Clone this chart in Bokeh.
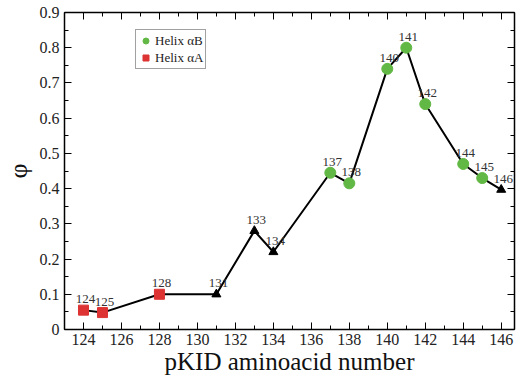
from bokeh.plotting import figure
from bokeh.models import LinearAxis, FixedTicker, ColumnDataSource, Legend, LegendItem, CustomLabelingPolicy
from bokeh.embed import file_html
from bokeh.resources import INLINE
from bokeh.core.properties import value

# ---- data ----
residues = [124, 125, 128, 131, 133, 134, 137, 138, 140, 141, 142, 144, 145, 146]
phi      = [0.055, 0.048, 0.10, 0.10, 0.28, 0.22, 0.445, 0.415, 0.74, 0.80, 0.64, 0.47, 0.43, 0.397]
labels   = ["124", "125", "128", "131", "133", "134", "137", "138", "140", "141", "142", "144", "145", "146"]

helixB_res = [137, 138, 140, 141, 142, 144, 145]
helixB_phi = [0.445, 0.415, 0.74, 0.80, 0.64, 0.47, 0.43]
helixA_res = [124, 125, 128]
helixA_phi = [0.055, 0.048, 0.10]
other_res  = [131, 133, 134, 146]
other_phi  = [0.10, 0.28, 0.22, 0.397]

x_ticks = [124, 126, 128, 130, 132, 134, 136, 138, 140, 142, 144, 146]
x_minor = list(range(123, 148))
y_ticks = [0, 0.1, 0.2, 0.3, 0.4, 0.5, 0.6, 0.7, 0.8, 0.9]
y_minor = [0, 0.05, 0.1, 0.15, 0.2, 0.25, 0.3, 0.35, 0.4, 0.45, 0.5, 0.55, 0.6, 0.65, 0.7, 0.75, 0.8, 0.85, 0.9]

FONT = "Liberation Serif"
GREEN = "#62b844"
RED = "#dd3333"

p = figure(frame_width=450, frame_height=317, x_range=(123, 146.7), y_range=(0, 0.9),
           output_backend="svg", toolbar_location=None,
           min_border_left=60, min_border_top=12, min_border_right=2, min_border_bottom=40)
p.xgrid.visible = False
p.ygrid.visible = False
p.outline_line_color = None
p.background_fill_color = "white"

no_labels = CustomLabelingPolicy(code="""
const all = Array.from(indices);
for (const i of all) indices.unset(i);
return indices;
""")

def style_axis(ax, ticks, minor, show_labels):
    ax.ticker = FixedTicker(ticks=ticks, minor_ticks=minor)
    ax.major_tick_in = 7
    ax.major_tick_out = 0
    ax.minor_tick_in = 4
    ax.minor_tick_out = 0
    ax.axis_line_color = "black"
    ax.axis_line_width = 1.5
    ax.major_tick_line_color = "black"
    ax.minor_tick_line_color = "black"
    ax.major_tick_line_width = 1
    ax.minor_tick_line_width = 1
    if show_labels:
        ax.major_label_text_font = FONT
        ax.major_label_text_font_size = "16px"
        ax.major_label_text_color = "#222222"
        ax.axis_label_text_font = FONT
        ax.axis_label_text_font_style = "normal"
        ax.axis_label_text_color = "#111111"
    else:
        ax.major_label_policy = no_labels
        ax.major_label_text_font_size = "1px"
        ax.major_label_standoff = 0

xa = p.xaxis[0]
style_axis(xa, x_ticks, x_minor, True)
xa.axis_label = "pKID aminoacid number"
xa.axis_label_text_font_size = "25px"
xa.axis_label_standoff = 0
xa.major_label_standoff = 4

ya = p.yaxis[0]
style_axis(ya, y_ticks, y_minor, True)
ya.major_label_overrides = {0: "0"}
ya.axis_label = "φ"
ya.axis_label_text_font_size = "26px"
ya.axis_label_standoff = 4
ya.major_label_standoff = 5

top = LinearAxis()
style_axis(top, x_ticks, x_minor, False)
p.add_layout(top, "above")

right = LinearAxis()
style_axis(right, y_ticks, y_minor, False)
p.add_layout(right, "right")

# ---- line and markers ----
src = ColumnDataSource(dict(x=residues, y=phi, t=labels))
p.line("x", "y", source=src, line_color="black", line_width=2)

rb = p.scatter(helixB_res, helixB_phi, marker="circle", size=11, fill_color=GREEN, line_color=GREEN)
ra = p.scatter(helixA_res, helixA_phi, marker="square", size=10, fill_color=RED, line_color=RED)
p.scatter(other_res, other_phi, marker="triangle", size=9, fill_color="black", line_color="black")

p.text("x", "y", text="t", source=src, text_font=value(FONT), text_font_size="13px",
       text_color="#333333", text_align="center", text_baseline="bottom",
       x_offset=2, y_offset=-7)

legend = Legend(items=[LegendItem(label="Helix αB", renderers=[rb]),
                       LegendItem(label="Helix αA", renderers=[ra])],
                location=(71, 260))
legend.label_text_font = FONT
legend.label_text_font_size = "13px"
legend.label_text_color = "#222222"
legend.label_height = 17
legend.glyph_height = 17
legend.glyph_width = 15
legend.label_standoff = 2
legend.spacing = -4
legend.padding = 2
legend.margin = 0
legend.border_line_color = "#444444"
legend.border_line_width = 1
legend.background_fill_color = "white"
legend.background_fill_alpha = 1
p.add_layout(legend, "center")

open("out.html", "w").write(file_html(p, INLINE))
